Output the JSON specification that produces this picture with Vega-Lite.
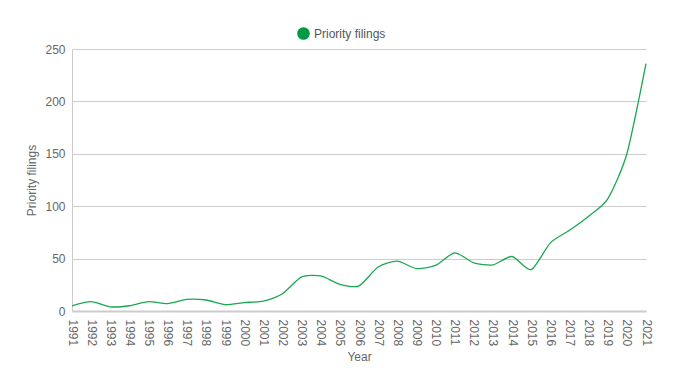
{
  "$schema": "https://vega.github.io/schema/vega-lite/v6.json",
  "width": 574,
  "height": 262,
  "autosize": {"type": "none"},
  "padding": {"left": 72, "top": 49, "right": 28, "bottom": 57},
  "background": "white",
  "config": {
    "font": "Liberation Sans",
    "view": {"stroke": null}
  },
  "data": {
    "values": [
      {"year": "1991", "filings": 5},
      {"year": "1992", "filings": 9},
      {"year": "1993", "filings": 4},
      {"year": "1994", "filings": 5},
      {"year": "1995", "filings": 9},
      {"year": "1996", "filings": 7},
      {"year": "1997", "filings": 11},
      {"year": "1998", "filings": 10.5},
      {"year": "1999", "filings": 6},
      {"year": "2000", "filings": 8},
      {"year": "2001", "filings": 9.5},
      {"year": "2002", "filings": 16.5},
      {"year": "2003", "filings": 32.5},
      {"year": "2004", "filings": 33.5},
      {"year": "2005", "filings": 25.5},
      {"year": "2006", "filings": 24},
      {"year": "2007", "filings": 42},
      {"year": "2008", "filings": 47.5},
      {"year": "2009", "filings": 40.5},
      {"year": "2010", "filings": 43.5},
      {"year": "2011", "filings": 55.5},
      {"year": "2012", "filings": 46},
      {"year": "2013", "filings": 44},
      {"year": "2014", "filings": 52},
      {"year": "2015", "filings": 39.5},
      {"year": "2016", "filings": 65},
      {"year": "2017", "filings": 77},
      {"year": "2018", "filings": 90.5},
      {"year": "2019", "filings": 107},
      {"year": "2020", "filings": 150},
      {"year": "2021", "filings": 236}
    ]
  },
  "mark": {"type": "line", "interpolate": "cardinal", "tension": 0.3, "strokeWidth": 1.3},
  "encoding": {
    "x": {
      "field": "year",
      "type": "ordinal",
      "scale": {"type": "point", "padding": 0},
      "axis": {
        "title": "Year",
        "titleFont": "Liberation Sans",
        "titleFontSize": 12,
        "titleFontWeight": "normal",
        "titleColor": "#666666",
        "titlePadding": 6,
        "labelAngle": 90,
        "labelAlign": "left",
        "labelBaseline": "middle",
        "labelFontSize": 12,
        "labelColor": "#666666",
        "labelPadding": 8,
        "ticks": false,
        "domainColor": "#cccccc",
        "domainWidth": 2,
        "grid": false
      }
    },
    "y": {
      "field": "filings",
      "type": "quantitative",
      "scale": {"domain": [0, 250]},
      "axis": {
        "title": "Priority filings",
        "titleFont": "Liberation Sans",
        "titleFontSize": 12,
        "titleFontWeight": "normal",
        "titleColor": "#666666",
        "titlePadding": 6,
        "values": [0, 50, 100, 150, 200, 250],
        "labelFontSize": 12,
        "labelColor": "#666666",
        "labelPadding": 7,
        "ticks": false,
        "domain": true,
        "domainColor": "#cccccc",
        "grid": true,
        "gridColor": "#cccccc"
      }
    },
    "color": {
      "datum": "Priority filings",
      "type": "nominal",
      "scale": {"range": ["#1aa850"]},
      "legend": {
        "title": null,
        "orient": "none",
        "legendX": 225,
        "legendY": -22,
        "symbolType": "circle",
        "symbolSize": 160,
        "symbolFillColor": "#009a44",
        "symbolStrokeColor": "#009a44",
        "symbolStrokeWidth": 0,
        "labelFontSize": 12,
        "labelColor": "#555555",
        "labelFont": "Liberation Sans"
      }
    }
  }
}
